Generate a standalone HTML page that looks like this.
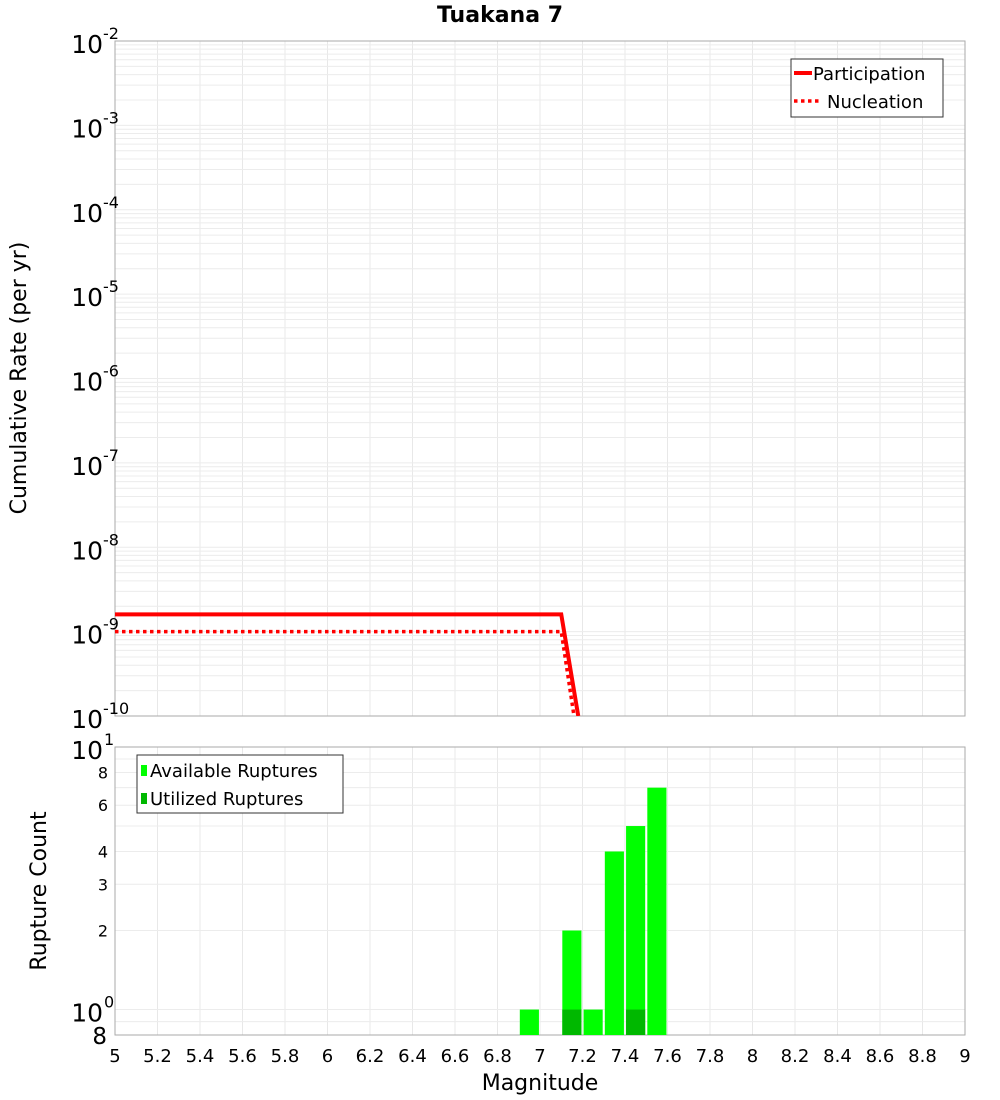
<!DOCTYPE html>
<html><head><meta charset="utf-8"><style>body{margin:0;background:#fff}svg{display:block;font-family:"DejaVu Sans","Liberation Sans",sans-serif}</style></head>
<body>
<svg id="c" width="1000" height="1100"></svg>
<script>
const partMags=[5.0,7.1,7.18];
const partRates=[1.6e-9,1.6e-9,1e-10];
const nuclMags=[5.0,7.1,7.16];
const nuclRates=[1e-9,1e-9,1e-10];
const binMags=[6.95,7.15,7.25,7.35,7.45,7.55];
const availCounts=[1,2,1,4,5,7];
const utilCounts=[0,1,0,0,1,0];
const xTicks=["5","5.2","5.4","5.6","5.8","6","6.2","6.4","6.6","6.8","7","7.2","7.4","7.6","7.8","8","8.2","8.4","8.6","8.8","9"];
const topExps=[-2,-3,-4,-5,-6,-7,-8,-9,-10];
const botTicks=[2,3,4,6,8];

const NS="http://www.w3.org/2000/svg",svg=document.getElementById('c');
function el(t,a,p){const e=document.createElementNS(NS,t);for(const k in a)e.setAttribute(k,a[k]);(p||svg).appendChild(e);return e;}
const L=115,R=965,T1=41,B1=716,T2=747,B2=1035;
const x=m=>L+(m-5)/4*(R-L);
const y1=v=>B1-(Math.log10(v)+10)/8*(B1-T1);
const lb=Math.log10(0.8),lt=1;
const y2=v=>B2-(Math.log10(v)-lb)/(lt-lb)*(B2-T2);

const g=el('g',{});
for(let i=0;i<=20;i++){const xx=x(5+i*0.2);el('line',{x1:xx,x2:xx,y1:T1,y2:B1,stroke:'#e8e8e8'},g);el('line',{x1:xx,x2:xx,y1:T2,y2:B2,stroke:'#e8e8e8'},g);}
for(let d=-10;d<-2;d++)for(let k=1;k<10;k++){const yy=y1(k*Math.pow(10,d));el('line',{x1:L,x2:R,y1:yy,y2:yy,stroke:'#ececec'},g);}
for(let k=1;k<=10;k++){const yy=y2(k);el('line',{x1:L,x2:R,y1:yy,y2:yy,stroke:'#ececec'},g);}
el('line',{x1:L,x2:R,y1:y2(0.9),y2:y2(0.9),stroke:'#ececec'},g);

const f1=el('rect',{x:L,y:T1,width:R-L,height:B1-T1,fill:'none',stroke:'#aaa'});
const f2=el('rect',{x:L,y:T2,width:R-L,height:B2-T2,fill:'none',stroke:'#aaa'});

const clip=el('clipPath',{id:'cp'});el('rect',{x:L,y:T1,width:R-L,height:B1-T1},clip);
const pl=el('polyline',{points:partMags.map((m,i)=>x(m)+','+y1(partRates[i])).join(' '),fill:'none',stroke:'#f00','stroke-width':4,'clip-path':'url(#cp)'});

const nl=el('polyline',{points:nuclMags.map((m,i)=>x(m)+','+y1(nuclRates[i])).join(' '),fill:'none',stroke:'#f00','stroke-width':3.5,'stroke-dasharray':'3.5 3.5','clip-path':'url(#cp)'});


binMags.forEach((m,i)=>{const x0=x(m-0.045),w=x(m+0.045)-x0;
 const b=el('rect',{x:x0,y:y2(availCounts[i]),width:w,height:B2-y2(availCounts[i]),fill:'#00ff00'});
 
 if(utilCounts[i]>0){const u=el('rect',{x:x0,y:y2(utilCounts[i]),width:w,height:B2-y2(utilCounts[i]),fill:'#00b800'});
 }
});

function txt(s,a,name){const t=el('text',a);t.textContent=s;return t;}
xTicks.forEach((s,i)=>txt(s,{x:x(5+i*0.2),y:1062,'font-size':18,'text-anchor':'middle'},'x-tick-label'));
topExps.forEach(e=>{const yy=y1(Math.pow(10,e));txt('10',{x:103,y:yy+12,'font-size':25,'text-anchor':'end'},'y-tick-label');
 txt(String(e),{x:103,y:yy-2,'font-size':16},'y-tick-exponent');});
txt('10',{x:103,y:y2(10)+12,'font-size':25,'text-anchor':'end'},'y2-tick-label');txt('1',{x:104,y:y2(10)-2,'font-size':16},'y2-tick-exponent');
txt('10',{x:103,y:y2(1)+12,'font-size':25,'text-anchor':'end'},'y2-tick-label');txt('0',{x:104,y:y2(1)-2,'font-size':16},'y2-tick-exponent');
txt('8',{x:107,y:B2+9,'font-size':23,'text-anchor':'end'},'y2-tick-label');
botTicks.forEach(v=>txt(String(v),{x:108,y:y2(v)+6,'font-size':16,'text-anchor':'end'},'y2-tick-label'));

txt('Tuakana 7',{x:500,y:22,'font-size':22,'font-weight':'bold','text-anchor':'middle'},'chart-title');
txt('Magnitude',{x:540,y:1090,'font-size':22,'text-anchor':'middle'},'x-axis-title');
txt('Cumulative Rate (per yr)',{x:26,y:378,'font-size':22,'text-anchor':'middle',transform:'rotate(-90 26 378)'},'y-axis-title');
txt('Rupture Count',{x:46,y:891,'font-size':22,'text-anchor':'middle',transform:'rotate(-90 46 891)'},'y2-axis-title');

const lg=el('g',{});
el('rect',{x:791,y:59,width:152,height:58,fill:'#fff',stroke:'#333'},lg);
el('line',{x1:794,x2:812,y1:73,y2:73,stroke:'#f00','stroke-width':4},lg);
el('line',{x1:794,x2:822,y1:101,y2:101,stroke:'#f00','stroke-width':3.5,'stroke-dasharray':'3.5 3.5'},lg);
txt('Participation',{x:813,y:80,'font-size':18},'legend-participation');
txt('Nucleation',{x:827,y:108,'font-size':18},'legend-nucleation');
const lg2=el('g',{});
el('rect',{x:137,y:755,width:206,height:58,fill:'#fff',stroke:'#333'},lg2);
el('rect',{x:141,y:765,width:6,height:11,fill:'#00ff00'},lg2);
el('rect',{x:141,y:793,width:6,height:11,fill:'#00b800'},lg2);
txt('Available Ruptures',{x:150,y:777,'font-size':18},'legend-available');
txt('Utilized Ruptures',{x:150,y:805,'font-size':18},'legend-utilized');
</script>
</body></html>
